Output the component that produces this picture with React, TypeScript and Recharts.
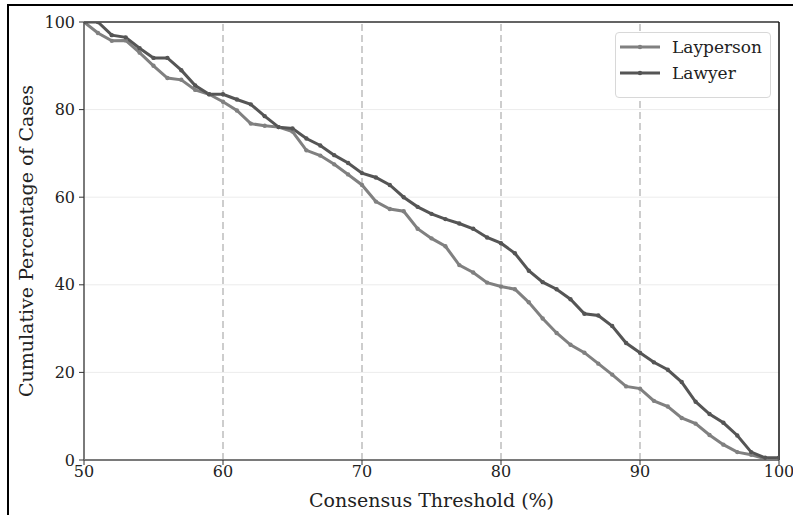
import React from "react";
import { LineChart, Line, XAxis, YAxis, CartesianGrid, ReferenceLine, Legend } from "recharts";

const thresholds = [50,51,52,53,54,55,56,57,58,59,60,61,62,63,64,65,66,67,68,69,70,71,72,73,74,75,76,77,78,79,80,81,82,83,84,85,86,87,88,89,90,91,92,93,94,95,96,97,98,99,100];

const layperson = [100,97.5,95.7,95.8,93,90,87.2,86.8,84.5,83.5,81.8,79.8,76.8,76.3,76,75,70.7,69.5,67.5,65.2,62.8,59,57.3,56.8,52.8,50.6,48.8,44.5,42.8,40.5,39.6,39,36,32.3,29,26.3,24.5,22,19.5,16.8,16.3,13.5,12.2,9.6,8.3,5.7,3.5,1.8,1.2,0.3,0.3];

const lawyer = [100,100,97,96.5,94,91.8,91.8,89,85.5,83.5,83.5,82.3,81.2,78.5,76,75.7,73.4,71.8,69.6,67.8,65.5,64.5,62.8,60,57.8,56.2,55,54,52.8,50.8,49.5,47.2,43.2,40.6,39,36.7,33.4,33,30.6,26.7,24.5,22.3,20.6,17.8,13.3,10.5,8.5,5.6,1.8,0.5,0.5];

const xTicks = [50, 60, 70, 80, 90, 100];
const yTicks = [0, 20, 40, 60, 80, 100];
const dashedLines = [60, 70, 80, 90];

const data = thresholds.map((t, i) => ({ t, layperson: layperson[i], lawyer: lawyer[i] }));

const FONT = "'DejaVu Serif', serif";
const C_LAY = "#808080";
const C_LAW = "#555555";

const LegendBox = () => (
  <div
    style={{
      width: 156,
      height: 66,
      border: "1px solid #d8d8d8",
      borderRadius: 4,
      background: "#fff",
      fontFamily: FONT,
      fontSize: 17,
      color: "#222",
      boxSizing: "border-box",
      paddingTop: 1,
    }}
  >
    {[
      { name: "Layperson", c: C_LAY },
      { name: "Lawyer", c: C_LAW },
    ].map((it) => (
      <div key={it.name} style={{ display: "flex", alignItems: "center", height: 26 }}>
        <svg width={52} height={10} style={{ marginLeft: 4 }}>
          <line x1={0} y1={5} x2={40} y2={5} stroke={it.c} strokeWidth={3} />
          <circle cx={20} cy={5} r={2.2} fill={it.c} />
        </svg>
        <span>{it.name}</span>
      </div>
    ))}
  </div>
);

export default function App() {
  return (
    <div style={{ position: "absolute", left: 0, top: 0, width: 793, height: 515, background: "#fff", overflow: "hidden" }}>
      <div
        style={{
          position: "absolute",
          left: 7,
          top: 4,
          width: 820,
          height: 560,
          borderLeft: "2px solid #000",
          borderTop: "2px solid #000",
        }}
      />
      <div style={{ position: "absolute", left: 0, top: 0 }}>
        <LineChart width={793} height={515} data={data} margin={{ top: 22, right: 14, left: 0, bottom: 0 }}>
          <CartesianGrid vertical={false} stroke="#ececec" strokeWidth={1} />
          {dashedLines.map((x) => (
            <ReferenceLine key={x} x={x} stroke="#bdbdbd" strokeWidth={1.5} strokeDasharray="7 4" />
          ))}
          <ReferenceLine y={100} stroke="#333" strokeWidth={1.5} />
          <ReferenceLine x={100} stroke="#111" strokeWidth={1.5} />
          <XAxis
            dataKey="t"
            type="number"
            domain={[50, 100]}
            ticks={xTicks}
            allowDataOverflow
            height={55}
            axisLine={{ stroke: "#7a7a7a", strokeWidth: 2 }}
            tickLine={{ stroke: "#333" }}
            tickSize={5}
            tickMargin={1}
            tick={{ fill: "#222", fontFamily: FONT, fontSize: 16 }}
            label={{ value: "Consensus Threshold (%)", position: "insideBottom", offset: 8, fill: "#222", fontFamily: FONT, fontSize: 19 }}
          />
          <YAxis
            type="number"
            domain={[0, 100]}
            ticks={yTicks}
            allowDataOverflow
            width={84}
            axisLine={{ stroke: "#7a7a7a", strokeWidth: 2 }}
            tickLine={{ stroke: "#333" }}
            tickSize={5}
            tickMargin={4}
            tick={{ fill: "#222", fontFamily: FONT, fontSize: 16 }}
            label={{ value: "Cumulative Percentage of Cases", angle: -90, position: "center", dx: -16, fill: "#222", fontFamily: FONT, fontSize: 19 }}
          />
          <Line
            dataKey="layperson"
            name="Layperson"
            stroke={C_LAY}
            strokeWidth={3}
            dot={{ r: 2.2, fill: C_LAY, stroke: C_LAY, strokeWidth: 0 }}
            isAnimationActive={false}
          />
          <Line
            dataKey="lawyer"
            name="Lawyer"
            stroke={C_LAW}
            strokeWidth={3}
            dot={{ r: 2.2, fill: C_LAW, stroke: C_LAW, strokeWidth: 0 }}
            isAnimationActive={false}
          />
          <Legend
            layout="vertical"
            align="center"
            verticalAlign="middle"
            wrapperStyle={{ left: 615, top: 32, width: 156, height: 66 }}
            content={() => <LegendBox />}
          />
        </LineChart>
      </div>
    </div>
  );
}
